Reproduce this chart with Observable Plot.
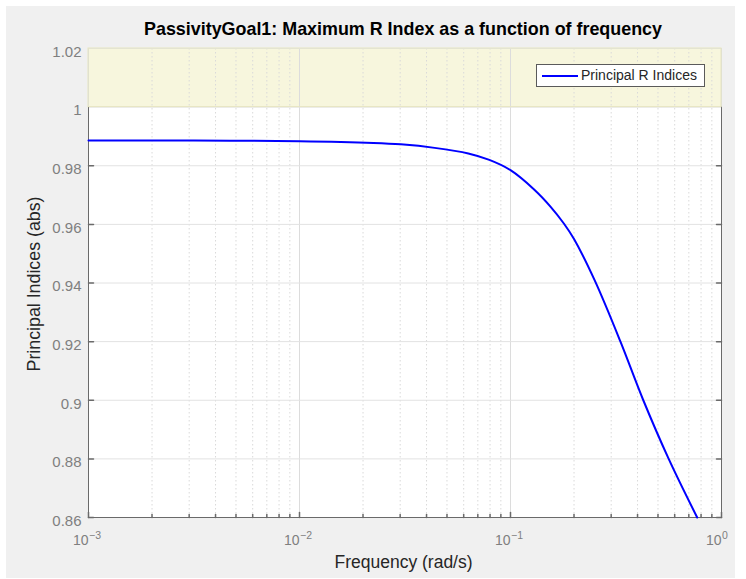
<!DOCTYPE html>
<html><head><meta charset="utf-8">
<script src="https://cdn.jsdelivr.net/npm/d3@7"></script>
<script src="https://cdn.jsdelivr.net/npm/@observablehq/plot@0.6"></script>
<style>
body{margin:0;background:#fff;}
#wrap{position:relative;width:746px;height:579px;overflow:hidden;}
#bg{position:absolute;left:6px;top:6px;width:729px;height:572px;background:#f0f0f0;}
#chart{position:absolute;left:0;top:0;}
#legend{position:absolute;left:536px;top:64px;width:167px;height:21px;border:1px solid #5a5a5a;background:#fff;
  font:14px "Liberation Sans",Arial,sans-serif;color:#262626;}
#legend .sw{position:absolute;left:5px;top:10px;width:36px;height:2px;background:#0000ff;}
#legend .lb{position:absolute;left:44px;top:2px;white-space:nowrap;}
</style></head>
<body>
<div id="wrap"><div id="bg"></div><div id="chart"></div>
<div id="legend"><div class="sw"></div><div class="lb" id="legtext"></div></div></div>
<script>
// ---- data ----
const freq   = [0.001, 0.00316, 0.01, 0.0224, 0.0302, 0.0437, 0.0631, 0.0794, 0.1, 0.129, 0.155, 0.179, 0.2, 0.251, 0.332, 0.426, 0.562, 0.767];
const rIndex = [0.9886, 0.9886, 0.9884, 0.9878, 0.9873, 0.9861, 0.9842, 0.9820, 0.9785, 0.9720, 0.9660, 0.9603, 0.9550, 0.9408, 0.9200, 0.9000, 0.8800, 0.8600];
const seriesName = "Principal R Indices";
const xDomain = [0.001, 1];
const yDomain = [0.86, 1.02];
const xMajor = [0.001, 0.01, 0.1, 1];
const xExponents = ["\u22123", "\u22122", "\u22121", "0"];
const xMinor = [2,3,4,5,6,7,8,9].flatMap(m => [0.001, 0.01, 0.1].map(d => m * d));
const yTicks = [0.86, 0.88, 0.90, 0.92, 0.94, 0.96, 0.98, 1.00, 1.02];
const yTickLabels = ["0.86", "0.88", "0.9", "0.92", "0.94", "0.96", "0.98", "1", "1.02"];
const goalBand = [{lo: 1.0, hi: 1.02}];
const title = "PassivityGoal1: Maximum R Index as a function of frequency";
const xLabel = "Frequency (rad/s)";
const yLabel = "Principal Indices (abs)";

const data = freq.map((f, i) => ({f, r: rIndex[i]}));
const font = "'Liberation Sans', Arial, sans-serif";
const tickShape = {draw(ctx, l) { ctx.moveTo(0, 0); ctx.lineTo(0, -l); }};
const axisColor = "#6a6a6a";

const chart = Plot.plot({
  width: 746, height: 579,
  marginLeft: 88, marginRight: 25, marginTop: 48, marginBottom: 62,
  style: {background: "transparent", fontFamily: font, overflow: "visible"},
  x: {type: "log", domain: xDomain, axis: null},
  y: {domain: yDomain, axis: null},
  marks: [
    Plot.frame({fill: "white", stroke: "none"}),
    Plot.rect(goalBand, {x1: () => xDomain[0], x2: () => xDomain[1], y1: "lo", y2: "hi", fill: "#f7f6dd"}),
    Plot.ruleX(xMinor, {stroke: "#d9d9d9", strokeDasharray: "1.5,2.5"}),
    Plot.ruleX(xMajor, {stroke: "#dcdcdc"}),
    Plot.ruleY(yTicks, {stroke: "#e2e2e2"}),
    // axes box (lower part, the goal band covers the upper part)
    Plot.ruleX([xDomain[0], xDomain[1]], {y1: () => yDomain[0], y2: () => goalBand[0].lo, stroke: axisColor}),
    Plot.ruleY([yDomain[0]], {stroke: axisColor}),
    Plot.rect(goalBand, {x1: () => xDomain[0], x2: () => xDomain[1], y1: "lo", y2: "hi", fill: "none", stroke: "#e6e5bf"}),
    // inward ticks
    Plot.vector(yTicks.filter(v => v < 1), {x: () => xDomain[0], y: d => d, length: 5, rotate: 90, anchor: "start", shape: tickShape, stroke: axisColor}),
    Plot.vector(yTicks.filter(v => v < 1), {x: () => xDomain[1], y: d => d, length: 5, rotate: -90, anchor: "start", shape: tickShape, stroke: axisColor}),
    Plot.vector(xMajor, {x: d => d, y: () => yDomain[0], length: 5, rotate: 0, anchor: "start", shape: tickShape, stroke: axisColor}),
    Plot.vector(xMinor, {x: d => d, y: () => yDomain[0], length: 3, rotate: 0, anchor: "start", shape: tickShape, stroke: axisColor}),
    // data line
    Plot.line(data, {x: "f", y: "r", stroke: "#0000ff", strokeWidth: 2, curve: "catmull-rom"}),
    // tick labels
    Plot.text(yTicks, {y: d => d, frameAnchor: "left", text: (d, i) => yTickLabels[i], textAnchor: "end", lineAnchor: "middle", dx: -7, dy: 3.5, fontSize: 15, fill: "#7f7f7f"}),
    Plot.text(xMajor, {x: d => d, frameAnchor: "bottom", text: () => "10", textAnchor: "end", lineAnchor: "middle", dy: 23.5, fontSize: 14, fill: "#7f7f7f"}),
    Plot.text(xMajor, {x: d => d, frameAnchor: "bottom", text: (d, i) => xExponents[i], textAnchor: "start", lineAnchor: "middle", dx: 0.5, dy: 18.5, fontSize: 10.5, fill: "#7f7f7f"}),
    // labels & title
    Plot.text([xLabel], {frameAnchor: "bottom", textAnchor: "middle", lineAnchor: "middle", dx: -1.5, dy: 44.4, fontSize: 17.5, fill: "#262626"}),
    Plot.text([yLabel], {frameAnchor: "left", textAnchor: "middle", lineAnchor: "middle", rotate: -90, dx: -54, dy: 1, fontSize: 17.8, fill: "#262626"}),
    Plot.text([title], {frameAnchor: "top", textAnchor: "middle", lineAnchor: "middle", dx: -2, dy: -19, fontSize: 17.9, fontWeight: "bold", fill: "#000"})
  ]
});
document.getElementById("chart").append(chart);
document.getElementById("legtext").textContent = seriesName;
</script>
</body></html>
